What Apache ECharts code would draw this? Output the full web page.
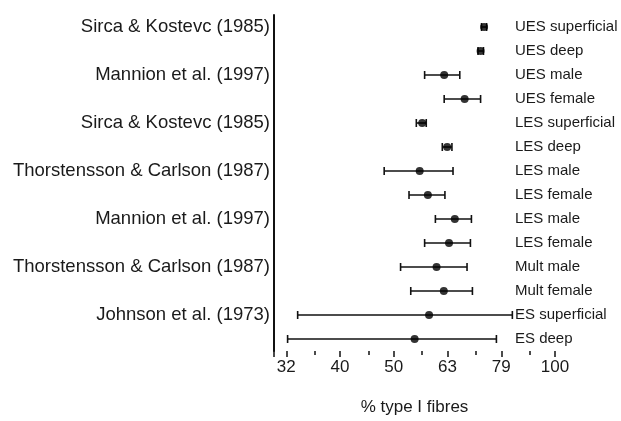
<!DOCTYPE html>
<html>
<head>
<meta charset="utf-8">
<script src="https://cdn.jsdelivr.net/npm/echarts@6/dist/echarts.min.js"></script>
<style>
  html, body { margin: 0; padding: 0; background: #fff; }
  #main { width: 621px; height: 421px; }
</style>
</head>
<body>
<div id="main"></div>
<script>
// rows, top to bottom
var rows = ['UES superficial', 'UES deep', 'UES male', 'UES female',
  'LES superficial', 'LES deep', 'LES male', 'LES female',
  'LES male', 'LES female', 'Mult male', 'Mult female',
  'ES superficial', 'ES deep'];
// study label shown on first row of each group
var studies = ['Sirca & Kostevc (1985)', '', 'Mannion et al. (1997)', '',
  'Sirca & Kostevc (1985)', '', 'Thorstensson & Carlson (1987)', '',
  'Mannion et al. (1997)', '', 'Thorstensson & Carlson (1987)', '',
  'Johnson et al. (1973)', ''];
var means = [73.8, 72.7, 62.2, 67.9, 56.6, 63.0, 56.0, 58.0, 65.1, 63.5, 60.2, 62.1, 58.3, 54.8];
var lows  = [73.0, 71.9, 57.2, 62.2, 55.2, 61.7, 48.1, 53.5, 59.9, 57.2, 51.6, 53.9, 33.2, 31.8];
var highs = [74.6, 73.6, 66.5, 72.7, 57.6, 64.3, 64.6, 62.4, 69.9, 69.6, 68.6, 70.2, 83.3, 77.8];

var chart = echarts.init(document.getElementById('main'));

var pts = means.map(function (m, i) { return [m, i]; });
var bars = means.map(function (m, i) { return [m, i, lows[i], highs[i]]; });

var txt = '#1a1a1a';
var font = 'Liberation Sans, Arial, sans-serif';

var option = {
  animation: false,
  grid: { left: 274, right: 66, top: 15, bottom: 67 },
  xAxis: {
    type: 'log',
    logBase: Math.pow(10, 0.1),
    min: 30,
    max: 100,
    name: '% type I fibres',
    nameLocation: 'middle',
    nameGap: 48,
    nameTextStyle: { color: txt, fontSize: 17, fontFamily: font },
    axisLine: { lineStyle: { color: '#111', width: 2 } },
    axisTick: { show: true, inside: false, length: 6, lineStyle: { color: '#111', width: 1.5 } },
    minorTick: { show: true, splitNumber: 2, length: 4, lineStyle: { color: '#111', width: 1.5 } },
    splitLine: { show: false },
    minorSplitLine: { show: false },
    axisLabel: {
      showMinLabel: false,
      margin: 8,
      color: txt, fontSize: 17, fontFamily: font,
      formatter: function (v) { return Math.round(v); }
    }
  },
  yAxis: [{
    type: 'category',
    data: rows,
    inverse: true,
    axisLine: { lineStyle: { color: '#111', width: 2 } },
    axisTick: { show: false },
    axisLabel: {
      margin: 4,
      color: txt, fontSize: 18.5, fontFamily: font,
      formatter: function (v, i) { return studies[i]; }
    }
  }, {
    type: 'category',
    data: rows,
    inverse: true,
    position: 'right',
    axisLine: { show: false },
    axisTick: { show: false },
    axisLabel: {
      margin: -40,
      color: txt, fontSize: 15, fontFamily: font
    }
  }],
  series: [{
    type: 'custom',
    data: bars,
    renderItem: function (params, api) {
      var y = api.value(1);
      var a = api.coord([api.value(2), y]);
      var b = api.coord([api.value(3), y]);
      var h = 4;
      var st = { stroke: '#111', lineWidth: 1.6 };
      return {
        type: 'group',
        children: [
          { type: 'line', shape: { x1: a[0], y1: a[1], x2: b[0], y2: b[1] }, style: st },
          { type: 'line', shape: { x1: a[0], y1: a[1] - h, x2: a[0], y2: a[1] + h }, style: st },
          { type: 'line', shape: { x1: b[0], y1: b[1] - h, x2: b[0], y2: b[1] + h }, style: st }
        ]
      };
    },
    z: 2
  }, {
    type: 'scatter',
    data: pts,
    symbol: 'circle',
    symbolSize: 8,
    itemStyle: { color: '#000' },
    z: 3
  }]
};
chart.setOption(option);
</script>
</body>
</html>
